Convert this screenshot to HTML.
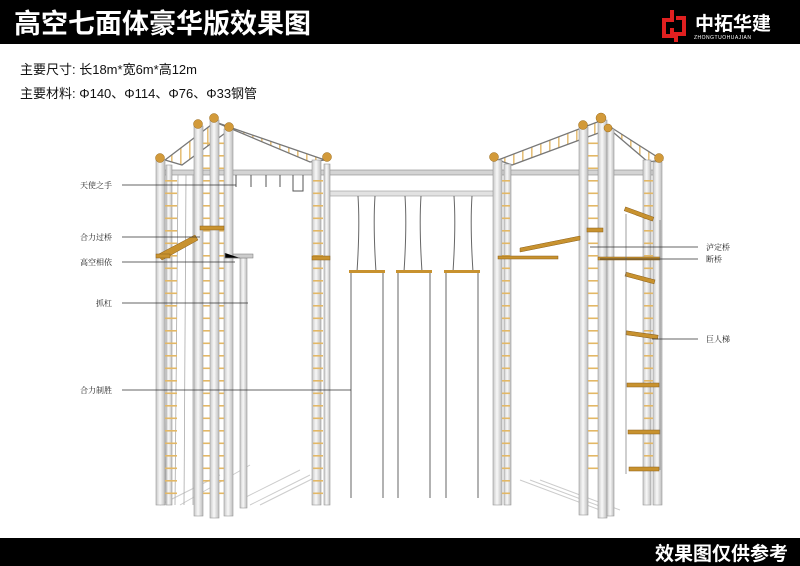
<!DOCTYPE html>
<html><head><meta charset="utf-8"><style>
html,body{margin:0;padding:0;background:#fff;width:800px;height:566px;overflow:hidden}
svg{display:block}
</style></head><body>
<svg width="800" height="566" viewBox="0 0 800 566" xmlns="http://www.w3.org/2000/svg" font-family="Liberation Sans, Noto Sans CJK SC, sans-serif">
<defs>
<pattern id="rung" x="0" y="0" width="10" height="12.5" patternUnits="userSpaceOnUse">
<rect x="0" y="5" width="10" height="1.6" fill="#e3b866"/></pattern>
<pattern id="mb" x="0" y="0" width="9" height="9" patternUnits="userSpaceOnUse">
<rect x="0" y="0" width="1.6" height="9" fill="#e6c07a"/></pattern>
<linearGradient id="pg" x1="0" x2="1"><stop offset="0" stop-color="#c8c8c8"/><stop offset=".45" stop-color="#f8f8f8"/><stop offset="1" stop-color="#bdbdbd"/></linearGradient>
</defs>
<rect width="800" height="566" fill="#fff"/>
<!-- header -->
<rect x="0" y="0" width="800" height="44" fill="#000"/>
<text x="14" y="33" fill="#fff" font-size="27" font-weight="bold" font-family="Noto Sans CJK SC, sans-serif">高空七面体豪华版效果图</text>
<g transform="translate(662,8)"><path d="M10 2v10h-8v16h8v-8 M14 10h8v16h-8v8" stroke="#e02020" stroke-width="4" fill="none"/></g>
<text x="695" y="30" fill="#fff" font-size="19" font-weight="bold" font-family="Noto Sans CJK SC, sans-serif">中拓华建</text>
<text x="694" y="39" fill="#fff" font-size="5" letter-spacing=".5">ZHONGTUOHUAJIAN</text>
<text x="20" y="74" font-size="13" fill="#111" font-family="Liberation Sans, Noto Sans CJK SC, sans-serif">主要尺寸: 长18m*宽6m*高12m</text>
<text x="20" y="98" font-size="13" fill="#111" font-family="Liberation Sans, Noto Sans CJK SC, sans-serif">主要材料: Φ140、Φ114、Φ76、Φ33钢管</text>
<!-- shadows -->
<g stroke="#ccc" stroke-width="1">
<path d="M160 505l60-30M180 505l70-40M240 500l60-30M250 505l60-30M260 505l60-30M520 480l80 30M530 480l80 30M540 480l80 30"/>
</g>
<!-- top monkey bars -->
<g>
<polygon points="165,160 215,122 232,128 182,165" fill="url(#mb)" stroke="#777" stroke-width="1.3"/>
<polygon points="215,122 232,128 325,160 310,162" fill="url(#mb)" stroke="#777" stroke-width="1.3"/>
<polygon points="498,160 600,121 612,128 512,165" fill="url(#mb)" stroke="#777" stroke-width="1.3"/>
<polygon points="600,121 612,128 662,160 648,162" fill="url(#mb)" stroke="#777" stroke-width="1.3"/>
</g>
<!-- top beam -->
<rect x="160" y="170" width="500" height="5" fill="#d4d4d4" stroke="#888" stroke-width=".6"/>
<rect x="326" y="191" width="170" height="5" fill="#e2e2e2" stroke="#999" stroke-width=".6"/>
<!-- angel hands -->
<g stroke="#555" stroke-width="1" fill="none">
<path d="M236 175v12M251 175v12M266 175v12M280 175v12M293 175v16h10v-16"/>
</g>
<!-- rope curtain -->
<g stroke="#666" stroke-width="1" fill="none">
<path d="M358 196q2 30-1 76M375 196q-2 30 1 76M405 196q2 30-1 76M421 196q-2 30 1 76M454 196q2 30-1 76M472 196q-2 30 1 76"/>
<path d="M351 273v225M383 273v225M398 273v225M430 273v225M446 273v225M478 273v225"/>
</g>
<g fill="#c8922f"><rect x="349" y="270" width="36" height="3"/><rect x="396" y="270" width="36" height="3"/><rect x="444" y="270" width="36" height="3"/></g>
<!-- back ropes left -->
<g stroke="#aaa" stroke-width=".8"><path d="M170 175l-5 330M178 175l-3 330M186 175l-2 330M193 175l0 330"/></g>
<!-- pillars -->
<g stroke="#999" stroke-width=".6" fill="url(#pg)">
<rect x="156" y="160" width="9" height="345"/>
<rect x="166" y="165" width="6" height="340"/>
<rect x="194" y="126" width="9" height="390"/>
<rect x="210" y="120" width="9" height="398"/>
<rect x="224" y="129" width="9" height="387"/>
<rect x="240" y="258" width="7" height="250"/>
<rect x="312" y="160" width="9" height="345"/>
<rect x="324" y="164" width="6" height="341"/>
<rect x="493" y="160" width="9" height="345"/>
<rect x="504" y="164" width="7" height="341"/>
<rect x="579" y="127" width="9" height="388"/>
<rect x="598" y="120" width="9" height="398"/>
<rect x="607" y="129" width="7" height="387"/>
<rect x="643" y="160" width="8" height="345"/>
<rect x="653" y="162" width="9" height="343"/>
</g>
<rect x="233" y="254" width="20" height="4" fill="#ccc" stroke="#777" stroke-width=".5"/>
<!-- ladder rungs -->
<g fill="url(#rung)">
<rect x="165" y="180" width="12" height="325"/>
<rect x="203" y="135" width="7" height="360"/>
<rect x="219" y="135" width="5" height="360"/>
<rect x="313" y="172" width="10" height="330"/>
<rect x="502" y="172" width="8" height="330"/>
<rect x="588" y="140" width="10" height="340"/>
<rect x="644" y="172" width="9" height="300"/>
</g>
<!-- bridges -->
<g fill="#c8922f" stroke="#8a5e18" stroke-width=".5">
<polygon points="157,255 162,260 198,240 195,235"/>
<rect x="156" y="254" width="14" height="4"/>
<rect x="200" y="226" width="24" height="4"/>
<rect x="312" y="256" width="18" height="4"/>
<rect x="498" y="256" width="60" height="3"/>
<polygon points="520,252 520,248 580,236 580,240"/>
<rect x="587" y="228" width="16" height="4"/>
<rect x="598" y="257" width="62" height="3"/>
<rect x="624" y="212" width="30" height="4" transform="rotate(20 639 214)"/>
<rect x="625" y="276" width="30" height="4" transform="rotate(15 640 278)"/>
<rect x="626" y="333" width="32" height="4" transform="rotate(8 642 335)"/>
<rect x="627" y="383" width="32" height="4"/>
<rect x="628" y="430" width="32" height="4"/>
<rect x="629" y="467" width="30" height="4"/>
</g>
<g stroke="#777" stroke-width=".7"><path d="M626 214v260M660 220v250M240 258h-15v-5"/></g>
<!-- knobs -->
<g fill="#d29a3a" stroke="#9a6a1a" stroke-width=".5">
<circle cx="160" cy="158" r="4.5"/><circle cx="198" cy="124" r="4.5"/><circle cx="214" cy="118" r="4.5"/><circle cx="229" cy="127" r="4.5"/>
<circle cx="327" cy="157" r="4.5"/><circle cx="494" cy="157" r="4.5"/>
<circle cx="583" cy="125" r="4.5"/><circle cx="601" cy="118" r="5"/><circle cx="608" cy="128" r="4"/><circle cx="659" cy="158" r="4.5"/>
</g>
<!-- labels -->
<g stroke="#333" stroke-width=".7">
<path d="M122 185H236M122 237H200M122 262H235M122 303H248M122 390H351M698 247H590M698 259H600M698 339H652"/>
</g>
<g font-size="8" fill="#222" font-family="Noto Serif CJK SC, serif">
<text x="80" y="188">天使之手</text><text x="80" y="240">合力过桥</text><text x="80" y="265">高空相依</text>
<text x="96" y="306">抓杠</text><text x="80" y="393">合力制胜</text>
<text x="706" y="250">泸定桥</text><text x="706" y="262">断桥</text><text x="706" y="342">巨人梯</text>
</g>
<!-- footer -->
<rect x="0" y="538" width="800" height="28" fill="#000"/>
<text x="788" y="560" text-anchor="end" fill="#fff" font-size="19" font-weight="bold" font-family="Noto Sans CJK SC, sans-serif">效果图仅供参考</text>
</svg>
</body></html>
